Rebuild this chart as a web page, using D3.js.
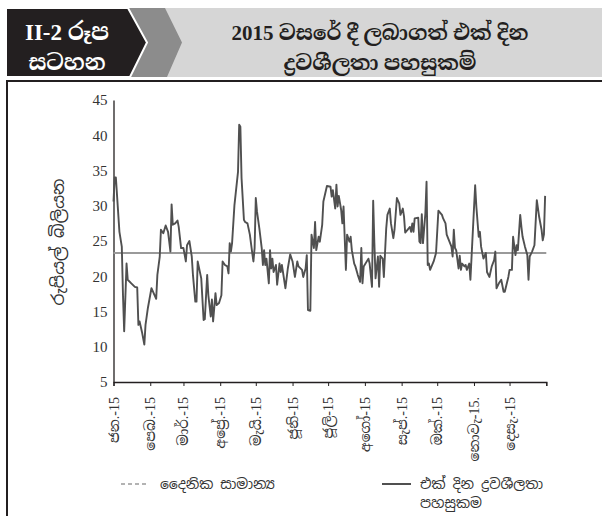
<!DOCTYPE html>
<html><head><meta charset="utf-8">
<script src="https://cdn.jsdelivr.net/npm/d3@7/dist/d3.min.js"></script>
<style>
body{margin:0;background:#fff;}
svg{display:block;}
</style></head>
<body>
<script>
// ---- data ----
const dayOfYear = [0,1,2,5,7,8,9,11,12,15,18,20,21,22,24,26,27,29,32,36,37,39,40,42,44,46,47,48,49,50,52,54,55,57,59,61,62,64,66,67,69,70,71,74,76,77,79,80,82,83,84,86,87,89,91,92,94,96,97,98,99,100,102,105,106,107,108,110,111,113,115,117,118,119,120,121,123,125,126,127,128,129,131,132,133,134,135,137,138,140,141,142,145,147,149,151,153,155,156,159,160,162,163,164,166,167,169,170,171,173,174,176,177,180,183,184,185,187,188,189,190,192,193,194,196,197,199,200,201,203,204,206,208,209,210,211,215,216,218,219,220,221,223,224,225,227,228,230,231,233,234,236,237,239,241,242,244,245,246,249,250,251,252,253,254,257,258,259,260,261,263,264,265,266,267,270,272,274,277,278,280,281,285,286,287,288,289,291,292,293,294,296,297,298,300,301,305,306,308,309,310,312,314,315,317,319,321,322,323,325,327,329,330,331,333,334,336,337,339,340,341,343,344,345,347,349,350,351,353,355,357,359,361,362,363,364];
const liquidity = [30.6,34.0,34.0,26.3,24.2,17.3,12.2,21.8,19.5,19.0,18.5,18.4,13.1,13.6,12.1,10.3,13.1,15.5,18.3,16.8,20.2,22.8,26.6,26.1,27.2,26.3,24.9,23.5,30.2,27.3,27.5,27.9,27.0,24.0,24.0,22.1,24.4,25.0,22.8,20.2,16.4,16.4,22.1,19.7,13.8,13.9,20.2,17.3,14.3,16.7,13.6,17.6,15.9,16.2,17.3,22.1,21.6,21.4,20.4,24.7,23.5,24.7,30.1,34.8,41.5,41.2,33.9,28.0,27.7,27.5,25.9,23.3,22.1,24.0,31.1,29.2,26.8,24.0,21.6,23.7,21.6,22.5,19.0,23.7,21.1,22.5,20.6,21.6,18.8,21.8,20.6,21.6,18.3,21.1,23.1,22.1,19.9,22.1,21.4,20.9,19.9,21.1,23.0,15.2,15.1,25.9,24.0,27.7,23.7,25.6,24.9,27.3,30.6,32.8,32.7,31.3,32.2,29.6,33.0,29.9,31.4,29.4,27.5,29.9,20.9,25.9,24.9,25.6,23.7,21.8,21.4,20.2,19.2,24.0,19.0,21.4,22.5,21.8,18.5,30.7,24.7,19.7,22.8,18.5,22.9,22.5,19.9,26.8,28.7,29.6,27.5,25.4,26.6,31.1,30.3,28.7,29.6,28.5,26.2,26.8,27.0,26.3,27.5,26.3,28.2,28.3,24.9,24.7,28.8,24.7,28.9,33.4,21.6,21.8,20.9,22.1,23.3,29.3,28.7,28.2,27.5,25.9,24.2,22.8,26.6,24.0,23.7,21.1,22.9,20.9,21.8,21.4,21.6,20.9,21.8,19.5,32.9,29.9,25.6,26.3,24.2,22.5,23.3,20.6,19.9,21.4,22.3,23.5,18.3,19.0,19.5,17.8,17.8,18.5,19.9,20.9,20.9,25.6,23.0,24.4,23.7,28.7,27.0,25.6,24.2,23.0,19.5,22.8,23.5,24.4,30.8,28.4,26.6,25.1,25.9,31.4];
const dailyAverage = 23.3;
const monthLabels = ["ජන.-15","පෙබ.-15","මාර්.-15","අප්‍රේ.-15","මැයි.-15","ජූනි-15","ජූලි-15","අගෝ-15","සැප්.-15","ඔක්.-15","නොවැ-15.","දෙසැ.-15"];
const yTicks = [5,10,15,20,25,30,35,40,45];
const titleLines = ["2015 වසරේ දී ලබාගත් එක් දින","ද්‍රවශීලතා පහසුකම්"];
const badgeLines = ["II-2 රූප","සටහන"];
const yTitle = "රුපියල් බිලියන";
const legendAvg = "දෛනික සාමාන්‍ය";
const legendLineLabel = ["එක් දින ද්‍රවශීලතා","පහසුකම"];

// ---- drawing ----
const W=602,H=516;
const svg=d3.select("body").append("svg").attr("width",W).attr("height",H);
const sif='"Noto Sans Sinhala","Noto Serif Sinhala","Iskoola Pota","Noto Sans",sans-serif';
const serif='"Liberation Serif","Noto Serif Sinhala","Noto Sans Sinhala",serif';

// header
svg.append("rect").attr("x",120).attr("y",8).attr("width",W-120).attr("height",69).attr("fill","#d6d6d6");
svg.append("polygon").attr("points","128,8 165,8 182,42.5 167,77 130,77 147,42.5").attr("fill","#8c8c8c");
svg.append("polygon").attr("points","6,8 128,8 147,42.5 130,77 6,77").attr("fill","#231f20").attr("stroke","#fff").attr("stroke-width",2);
badgeLines.forEach((t,i)=>{
  svg.append("text").attr("x",67).attr("y",[40,70][i]).attr("text-anchor","middle")
    .attr("fill","#fff").attr("font-weight","bold").attr("font-size",i==0?23:22)
    .attr("font-family",serif).text(t);
});
titleLines.forEach((t,i)=>{
  svg.append("text").attr("x",380).attr("y",[40,70][i]).attr("text-anchor","middle")
    .attr("fill","#231f20").attr("font-weight","bold").attr("font-size",21)
    .attr("font-family",serif).text(t);
});
// frame
svg.append("line").attr("x1",7).attr("x2",W).attr("y1",81).attr("y2",81).attr("stroke","#231f20").attr("stroke-width",2);
svg.append("line").attr("x1",7).attr("x2",7).attr("y1",80).attr("y2",H).attr("stroke","#231f20").attr("stroke-width",2);

const x0=113.5,x1=546.3,yTop=100,yBot=382;
const start=new Date(2015,0,1), end=new Date(2016,0,1);
const x=d3.scaleTime().domain([start,end]).range([x0,x1]);
const y=d3.scaleLinear().domain([5,45]).range([yBot,yTop]);
const toDate=d=>d3.timeDay.offset(start,d);
const pts=dayOfYear.map((d,i)=>({date:toDate(d),v:liquidity[i]}));

// y axis
const ya=svg.append("g").attr("transform",`translate(${x0},0)`)
  .call(d3.axisLeft(y).tickValues(yTicks).tickSize(0).tickPadding(6).tickFormat(d3.format("d")));
ya.attr("font-family",'"Liberation Serif",serif');
ya.select(".domain").attr("stroke","#231f20").attr("stroke-width",1.3);
ya.selectAll("text").attr("font-family",'"Liberation Serif",serif').attr("font-size",15).attr("fill","#333");

// x axis
const months=d3.timeMonth.range(start,d3.timeDay.offset(end,1));
const xa=svg.append("g").attr("transform",`translate(0,${yBot})`)
  .call(d3.axisBottom(x).tickValues(months).tickSize(4).tickFormat(""));
xa.select(".domain").attr("stroke","#231f20").attr("stroke-width",1.3);
xa.selectAll(".tick line").attr("stroke","#231f20");
months.slice(0,12).forEach((m,i)=>{
  svg.append("text").attr("transform",`translate(${x(m)+5},${yBot+15}) rotate(-90)`)
    .attr("text-anchor","end").attr("font-size",14).attr("fill","#333")
    .attr("font-family",serif).text(monthLabels[i]);
});

// average line
svg.append("line").attr("x1",x(start)).attr("x2",x(end)).attr("y1",y(dailyAverage)).attr("y2",y(dailyAverage))
  .attr("stroke","#9a9a9a").attr("stroke-width",2);

// data line
svg.append("path").datum(pts).attr("fill","none").attr("stroke","#505050").attr("stroke-width",1.9)
  .attr("stroke-linejoin","round")
  .attr("d",d3.line().x(d=>x(d.date)).y(d=>y(d.v)));

// y title
svg.append("text").attr("transform","translate(64,242) rotate(-90)").attr("text-anchor","middle")
  .attr("font-size",17).attr("fill","#333").attr("font-family",sif).text(yTitle);

// legend
svg.append("line").attr("x1",121).attr("x2",149).attr("y1",484).attr("y2",484).attr("stroke","#9a9a9a").attr("stroke-width",1.5).attr("stroke-dasharray","4,3");
svg.append("text").attr("x",160).attr("y",489).attr("font-size",14).attr("fill","#333").attr("font-family",sif).text(legendAvg);
svg.append("line").attr("x1",382).attr("x2",411).attr("y1",484).attr("y2",484).attr("stroke","#505050").attr("stroke-width",2);
legendLineLabel.forEach((t,i)=>{
  svg.append("text").attr("x",420).attr("y",489+i*19).attr("font-size",14).attr("fill","#333").attr("font-family",sif).text(t);
});
</script>
</body></html>
